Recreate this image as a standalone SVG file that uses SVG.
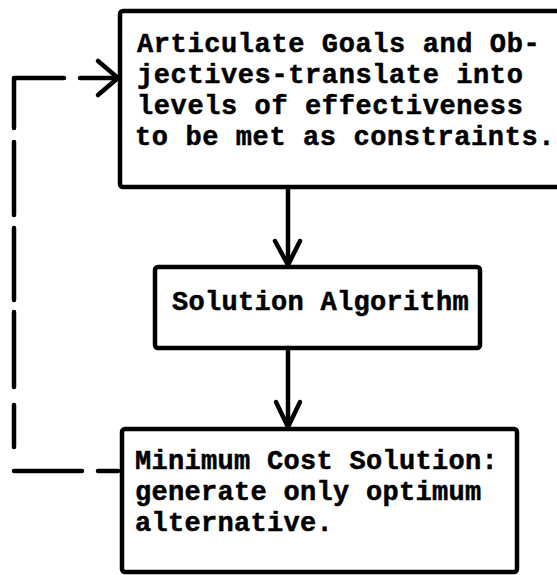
<svg xmlns="http://www.w3.org/2000/svg" width="557" height="575" viewBox="0 0 557 575">
<style>
.box{fill:none;stroke:#000;stroke-width:4.5;stroke-linejoin:round}
.ln{fill:none;stroke:#000;stroke-width:4.5;stroke-linecap:round;stroke-linejoin:round}
.t{font-family:"Liberation Mono","DejaVu Sans Mono",monospace;font-weight:bold;font-size:27px;letter-spacing:0.3px;fill:#000;stroke:#000;stroke-width:0.5}
.w{letter-spacing:0.6px}
</style>
<rect width="557" height="575" fill="#fff"/>
<g id="goals">
<rect class="box" x="120" y="11" width="450" height="176" rx="3"/>
<text class="t w" x="137" y="52">Articulate Goals and Ob-</text>
<text class="t w" x="137" y="83">jectives-translate into</text>
<text class="t w" x="137" y="114">levels of effectiveness</text>
<text class="t w" x="135" y="145">to be met as constraints.</text>
</g>
<g id="algorithm">
<rect class="box" x="155" y="267" width="325" height="81" rx="3"/>
<text class="t" x="172" y="310">Solution Algorithm</text>
</g>
<g id="mincost">
<rect class="box" x="122" y="429" width="395" height="143" rx="3"/>
<text class="t" x="135" y="469">Minimum Cost Solution:</text>
<text class="t" x="135" y="500">generate only optimum</text>
<text class="t" x="135" y="531">alternative.</text>
</g>
<g id="connectors">
<line class="ln" x1="288" y1="187" x2="288" y2="265"/>
<polyline class="ln" points="275,241 288,265 300,241"/>
<line class="ln" x1="288" y1="348" x2="288" y2="427"/>
<polyline class="ln" points="276,402 288,427 300,402"/>
<line class="ln" x1="118" y1="471" x2="98" y2="471"/>
<line class="ln" x1="82" y1="471" x2="14" y2="471"/>
<line class="ln" x1="14" y1="447" x2="14" y2="405"/>
<line class="ln" x1="14" y1="387" x2="14" y2="312"/>
<line class="ln" x1="14" y1="300" x2="14" y2="228"/>
<line class="ln" x1="14" y1="215" x2="14" y2="142"/>
<polyline class="ln" points="14,128 14,78 64,78"/>
<line class="ln" x1="80" y1="78" x2="118" y2="78"/>
<polyline class="ln" points="98,61 118,78 98,95"/>
</g>
</svg>
